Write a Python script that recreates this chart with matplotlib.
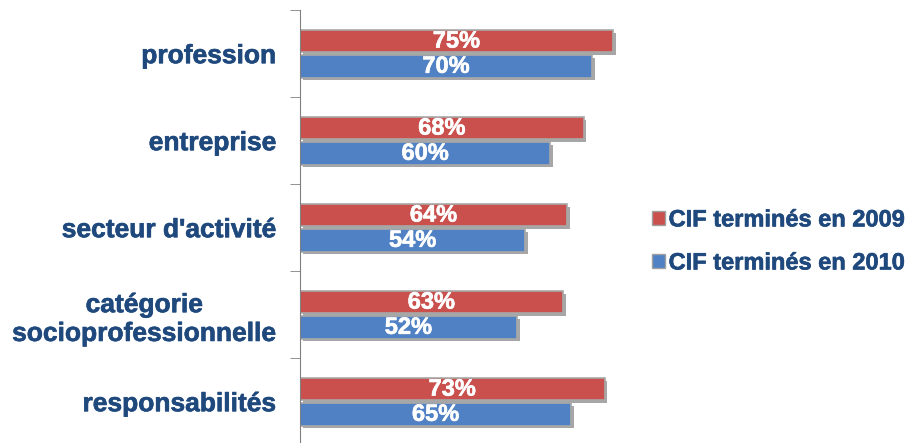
import matplotlib
matplotlib.use('Agg')
import matplotlib.pyplot as plt
import matplotlib.patheffects as pe
from matplotlib.patches import Patch
import numpy as np

categories = ['profession', 'entreprise', "secteur d'activité",
              'catégorie\nsocioprofessionnelle', 'responsabilités']
cif_2009 = [75, 68, 64, 63, 73]
cif_2010 = [70, 60, 54, 52, 65]
series_names = ['CIF terminés en 2009', 'CIF terminés en 2010']

plt.rcParams['font.family'] = ['Liberation Sans', 'DejaVu Sans']

red = '#C9504D'
blue = '#4F81C4'
label_col = '#1F497D'

def thick(col):
    # a bit heavier strokes, the reference text is a heavy bold
    return [pe.withStroke(linewidth=0.45, foreground=col)]

fig = plt.figure(figsize=(9.09, 4.43), dpi=100)
ax = fig.add_axes([0.330, -0.005, 0.459, 0.982])

y = np.arange(len(categories))
h = 0.26
off = 0.145
shadow = [pe.SimplePatchShadow(offset=(2, -2), shadow_rgbFace='#808080', alpha=0.7), pe.Normal()]

bars_red = ax.barh(y - off, cif_2009, height=h, color=red, edgecolor='#A8A8A8', linewidth=1.2)
bars_blue = ax.barh(y + off, cif_2010, height=h, color=blue, edgecolor='#A8A8A8', linewidth=1.2)
for b in list(bars_red) + list(bars_blue):
    b.set_path_effects(shadow)

for bars in [bars_red, bars_blue]:
    for b in bars:
        w = b.get_width()
        ax.text(w / 2, b.get_y() + b.get_height() / 2, f'{w:.0f}%', color='white',
                fontsize=17, fontweight='bold', ha='center', va='center',
                path_effects=thick('white'))

ax.set_xlim(0, 100)
ax.set_ylim(len(categories) - 0.5, -0.5)
ax.set_yticks(y)
ax.set_yticklabels(categories, fontsize=19, fontweight='bold', color=label_col,
                   ha='right', multialignment='center', linespacing=1.25)
for t in ax.get_yticklabels():
    t.set_path_effects(thick(label_col))
ax.tick_params(axis='y', which='major', length=0, pad=17)
ax.set_yticks(np.arange(-0.5, len(categories), 1), minor=True)
ax.tick_params(axis='y', which='minor', length=7, color='#808080')
ax.set_xticks([])
for s in ['top', 'right', 'bottom']:
    ax.spines[s].set_visible(False)
ax.spines['left'].set_color('#808080')

handles = [Patch(facecolor=red, edgecolor='#A0A0A0'), Patch(facecolor=blue, edgecolor='#A0A0A0')]
leg = fig.legend(handles, series_names, loc='center left', bbox_to_anchor=(0.694, 0.455),
                 frameon=False, handlelength=0.55, handleheight=0.55, handletextpad=0.15,
                 labelspacing=0.85, prop={'size': 17, 'weight': 'bold'})
for t in leg.get_texts():
    t.set_color(label_col)
    t.set_path_effects(thick(label_col))

fig.savefig('out.png', dpi=100)
